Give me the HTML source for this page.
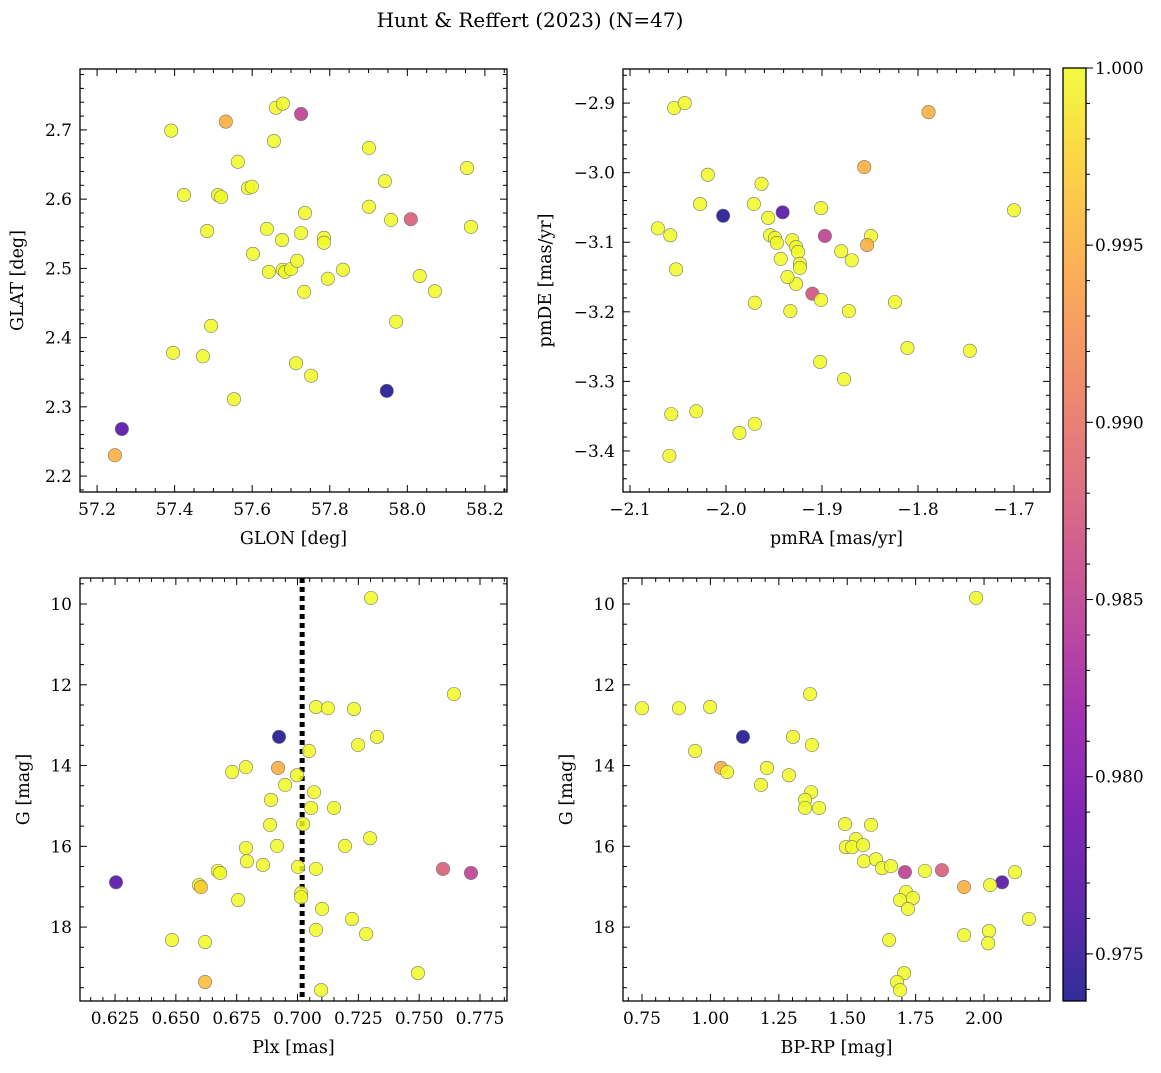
<!DOCTYPE html>
<html><head><meta charset="utf-8"><style>
body{margin:0;background:#fff;}
svg text{font-family:"DejaVu Serif","Liberation Serif",serif;fill:#000;}
</style></head><body>
<svg id="fig" width="1161" height="1068" viewBox="0 0 1161 1068" xmlns="http://www.w3.org/2000/svg">
<text x="530" y="27" font-size="20" text-anchor="middle">Hunt &amp; Reffert (2023) (N=47)</text>
</svg>
<script>
// Panel 1 data
const glon=[57.391,57.532,57.661,57.679,57.726,57.563,57.656,57.901,57.424,57.512,57.520,57.589,57.599,57.942,58.154,57.484,57.638,57.736,57.726,57.677,57.785,57.785,57.901,57.958,58.009,58.164,57.602,57.643,57.679,57.685,57.700,57.716,57.734,57.795,57.834,58.032,58.071,57.494,57.971,57.396,57.473,57.713,57.752,57.553,57.947,57.264,57.246];
const glat=[2.699,2.712,2.732,2.738,2.723,2.654,2.684,2.674,2.606,2.606,2.603,2.616,2.618,2.626,2.645,2.554,2.557,2.580,2.551,2.541,2.544,2.537,2.589,2.570,2.571,2.560,2.521,2.495,2.498,2.495,2.499,2.511,2.466,2.485,2.498,2.489,2.467,2.417,2.423,2.378,2.373,2.363,2.345,2.311,2.323,2.268,2.230];
const prob1=[1,0.995,1,1,0.985,1,1,1,1,1,1,1,1,1,1,1,1,1,1,1,1,1,1,1,0.988,1,1,1,1,1,1,1,1,1,1,1,1,1,1,1,1,1,1,1,0.974,0.977,0.995];
// Panel 2 data
const pmra=[-2.054,-2.043,-1.789,-1.856,-2.019,-1.963,-2.071,-2.058,-2.027,-2.003,-1.971,-1.956,-1.941,-1.901,-1.897,-1.849,-1.880,-1.869,-1.853,-1.700,-2.052,-1.954,-1.949,-1.947,-1.931,-1.927,-1.925,-1.923,-1.923,-1.927,-1.943,-1.936,-1.933,-1.910,-1.901,-1.872,-1.824,-1.970,-1.902,-1.877,-1.811,-1.746,-2.057,-2.031,-1.986,-1.970,-2.059];
const pmde=[-2.907,-2.900,-2.913,-2.992,-3.003,-3.016,-3.080,-3.090,-3.045,-3.062,-3.045,-3.065,-3.057,-3.051,-3.091,-3.091,-3.113,-3.126,-3.104,-3.054,-3.139,-3.090,-3.094,-3.101,-3.097,-3.107,-3.114,-3.131,-3.137,-3.160,-3.124,-3.150,-3.199,-3.174,-3.183,-3.199,-3.186,-3.187,-3.272,-3.297,-3.252,-3.256,-3.347,-3.343,-3.374,-3.361,-3.407];
const prob2=[1,1,0.995,0.995,1,1,1,1,1,0.974,1,1,0.977,1,0.985,1,1,1,0.995,1,1,1,1,1,1,1,1,1,1,1,1,1,1,0.987,1,1,1,1,1,1,1,1,1,1,1,1,1];
// Panel 3 data
const plx=[0.7302,0.7643,0.7076,0.7125,0.7232,0.6924,0.7327,0.7249,0.7047,0.6920,0.6731,0.6788,0.6998,0.6949,0.7068,0.6891,0.7056,0.7150,0.7023,0.6887,0.7298,0.7195,0.6788,0.6916,0.6792,0.6858,0.7002,0.7076,0.6673,0.6682,0.7598,0.7713,0.6254,0.6595,0.6603,0.6756,0.7015,0.7015,0.7101,0.7224,0.7076,0.7282,0.6484,0.6620,0.7495,0.6620,0.7097];
const gmag3=[9.85,12.23,12.55,12.58,12.60,13.29,13.29,13.49,13.64,14.06,14.16,14.04,14.24,14.48,14.66,14.85,15.05,15.05,15.45,15.47,15.80,15.99,16.04,15.99,16.37,16.46,16.51,16.56,16.61,16.66,16.56,16.66,16.89,16.96,17.01,17.33,17.16,17.26,17.55,17.80,18.07,18.17,18.32,18.37,19.14,19.36,19.56];
const prob3=[1,1,1,1,1,0.974,1,1,1,0.995,1,1,1,1,1,1,1,1,1,1,1,1,1,1,1,1,1,1,1,1,0.988,0.985,0.977,1,0.997,1,1,1,1,1,1,1,1,1,1,0.996,1];
const plxLine=0.7019;
// Panel 4 data
const bprp=[1.971,1.364,0.75,0.885,0.999,1.119,1.302,1.371,0.944,1.039,1.061,1.207,1.287,1.185,1.368,1.346,1.346,1.397,1.492,1.587,1.532,1.495,1.518,1.558,1.561,1.605,1.627,1.660,1.711,1.784,1.846,2.113,2.066,1.927,2.022,1.715,1.693,1.740,1.722,2.164,2.018,1.927,2.015,1.653,1.708,1.682,1.693];
const gmag4=[9.85,12.23,12.58,12.58,12.55,13.29,13.29,13.49,13.64,14.06,14.16,14.06,14.24,14.48,14.66,14.85,15.05,15.05,15.45,15.47,15.82,16.02,16.02,15.97,16.37,16.32,16.54,16.49,16.64,16.61,16.59,16.64,16.89,17.01,16.96,17.13,17.33,17.28,17.55,17.80,18.10,18.20,18.40,18.32,19.14,19.36,19.56];
const prob4=[1,1,1,1,1,0.974,1,1,1,0.995,1,1,1,1,1,1,1,1,1,1,1,1,1,1,1,1,1,1,0.985,1,0.988,1,0.977,0.995,1,1,1,1,1,1,1,1,1,1,1,1,1];
// colorbar ticks
const cbTicks=[0.975,0.980,0.985,0.990,0.995,1.000];
const VMIN=0.97367, VMAX=1.0;

const NS="http://www.w3.org/2000/svg";
const svg=document.getElementById('fig');
function mk(tag,attrs,parent){const e=document.createElementNS(NS,tag);for(const k in attrs)e.setAttribute(k,attrs[k]);(parent||svg).appendChild(e);return e;}
const stops=[[0,13,8,135],[0.1,65,4,157],[0.2,106,0,168],[0.3,143,13,164],[0.4,177,42,144],[0.5,204,71,120],[0.6,225,100,98],[0.7,242,132,75],[0.8,252,166,54],[0.9,252,206,37],[1,240,249,33]];
function plasma(t){t=Math.max(0,Math.min(1,t));for(let i=1;i<stops.length;i++){if(t<=stops[i][0]){const a=stops[i-1],b=stops[i],f=(t-a[0])/(b[0]-a[0]);return `rgb(${Math.round(a[1]+f*(b[1]-a[1]))},${Math.round(a[2]+f*(b[2]-a[2]))},${Math.round(a[3]+f*(b[3]-a[3]))})`;}}return 'rgb(240,249,33)';}

function panel(o){
  const {x0,y0,x1,y1,xmin,xmax,ymin,ymax,inv}=o;
  const sx=v=>x0+(v-xmin)/(xmax-xmin)*(x1-x0);
  const sy=v=>inv? y0+(v-ymin)/(ymax-ymin)*(y1-y0) : y1-(v-ymin)/(ymax-ymin)*(y1-y0);
  const g=mk('g',{});
  
  
  if(o.vline!==undefined){const l=mk('line',{x1:sx(o.vline),x2:sx(o.vline),y1:y0,y2:y1,stroke:'#000','stroke-width':5,'stroke-dasharray':'5,4'},g);
    }
  for(let i=0;i<o.xs.length;i++){
    const c=mk('circle',{cx:sx(o.xs[i]),cy:sy(o.ys[i]),r:6.7,fill:plasma((o.cs[i]-VMIN)/(VMAX-VMIN)),'fill-opacity':0.85,stroke:'#777','stroke-width':0.6},g);
    
    
  }
  mk('rect',{x:x0,y:y0,width:x1-x0,height:y1-y0,fill:'none',stroke:'#000','stroke-width':1.3},g);
  const eps=1e-9;
  for(let v=Math.ceil(xmin/o.xminor-eps)*o.xminor;v<=xmax+eps;v+=o.xminor){
    const px=sx(v),maj=Math.abs(v/o.xmajor-Math.round(v/o.xmajor))<1e-4,L=maj?7:4;
    mk('line',{x1:px,x2:px,y1:y1,y2:y1-L,stroke:'#000','stroke-width':1},g);
    mk('line',{x1:px,x2:px,y1:y0,y2:y0+L,stroke:'#000','stroke-width':1},g);
    if(maj){const t=mk('text',{x:px,y:y1+23,'font-size':17,'text-anchor':'middle'},g);t.textContent=o.xfmt(v);
      }
  }
  for(let v=Math.ceil(ymin/o.yminor-eps)*o.yminor;v<=ymax+eps;v+=o.yminor){
    const py=sy(v),maj=Math.abs(v/o.ymajor-Math.round(v/o.ymajor))<1e-4,L=maj?7:4;
    mk('line',{x1:x0,x2:x0+L,y1:py,y2:py,stroke:'#000','stroke-width':1},g);
    mk('line',{x1:x1,x2:x1-L,y1:py,y2:py,stroke:'#000','stroke-width':1},g);
    if(maj){const t=mk('text',{x:x0-8,y:py+6,'font-size':17,'text-anchor':'end'},g);t.textContent=o.yfmt(v);
      }
  }
  const xl=mk('text',{x:(x0+x1)/2,y:y1+52,'font-size':17.5,'text-anchor':'middle'},g);xl.textContent=o.xlabel;
  
  const yx=o.ylabX,yy=(y0+y1)/2;
  const yl=mk('text',{x:yx,y:yy,'font-size':17.5,'text-anchor':'middle',transform:`rotate(-90 ${yx} ${yy})`},g);yl.textContent=o.ylabel;
  
}
const m='\u2212';
const f=(d)=>v=>{let s=v.toFixed(d);if(Math.abs(v)<1e-9)s=(0).toFixed(d);return s.replace('-',m);};
panel({name:'glon-glat-panel',x0:80,y0:69,x1:507,y1:492,xmin:57.156,xmax:58.257,ymin:2.177,ymax:2.788,xs:glon,ys:glat,cs:prob1,xmajor:0.2,xminor:0.05,ymajor:0.1,yminor:0.02,xfmt:f(1),yfmt:f(1),xlabel:'GLON [deg]',ylabel:'GLAT [deg]',ylabX:23});
panel({name:'proper-motion-panel',x0:623,y0:69,x1:1050,y1:492,xmin:-2.1073,xmax:-1.6625,ymin:-3.459,ymax:-2.851,xs:pmra,ys:pmde,cs:prob2,xmajor:0.1,xminor:0.02,ymajor:0.1,yminor:0.02,xfmt:f(1),yfmt:f(1),xlabel:'pmRA [mas/yr]',ylabel:'pmDE [mas/yr]',ylabX:551});
panel({name:'parallax-mag-panel',x0:80,y0:578,x1:507,y1:1001,xmin:0.6106,xmax:0.7861,ymin:9.356,ymax:19.83,inv:true,xs:plx,ys:gmag3,cs:prob3,vline:plxLine,xmajor:0.025,xminor:0.005,ymajor:2,yminor:0.5,xfmt:f(3),yfmt:f(0),xlabel:'Plx [mas]',ylabel:'G [mag]',ylabX:29});
panel({name:'color-mag-panel',x0:623,y0:578,x1:1050,y1:1001,xmin:0.6806,xmax:2.241,ymin:9.356,ymax:19.83,inv:true,xs:bprp,ys:gmag4,cs:prob4,xmajor:0.25,xminor:0.05,ymajor:2,yminor:0.5,xfmt:f(2),yfmt:f(0),xlabel:'BP-RP [mag]',ylabel:'G [mag]',ylabX:572});
(function(){
  const x0=1063,x1=1086,y0=68,y1=1001;
  const g=mk('g',{});
  const defs=mk('defs',{},g);const lg=mk('linearGradient',{id:'cbg',x1:0,y1:1,x2:0,y2:0},defs);
  for(let i=0;i<=20;i++){mk('stop',{offset:i/20,'stop-color':plasma(i/20),'stop-opacity':0.85},lg);}
  mk('rect',{x:x0,y:y0,width:x1-x0,height:y1-y0,fill:'url(#cbg)',stroke:'#000','stroke-width':1.3},g);
  const sy=v=>y1-(v-VMIN)/(VMAX-VMIN)*(y1-y0);
  for(let v=0.974;v<=VMAX+1e-9;v+=0.001){const p=sy(v);mk('line',{x1:x1,x2:x1+4,y1:p,y2:p,stroke:'#000','stroke-width':1},g);}
  cbTicks.forEach(v=>{const p=sy(v);mk('line',{x1:x1,x2:x1+7,y1:p,y2:p,stroke:'#000','stroke-width':1},g);
    const t=mk('text',{x:x1+9,y:p+6,'font-size':17},g);t.textContent=v.toFixed(3);
    });
})();
</script>
</body></html>
